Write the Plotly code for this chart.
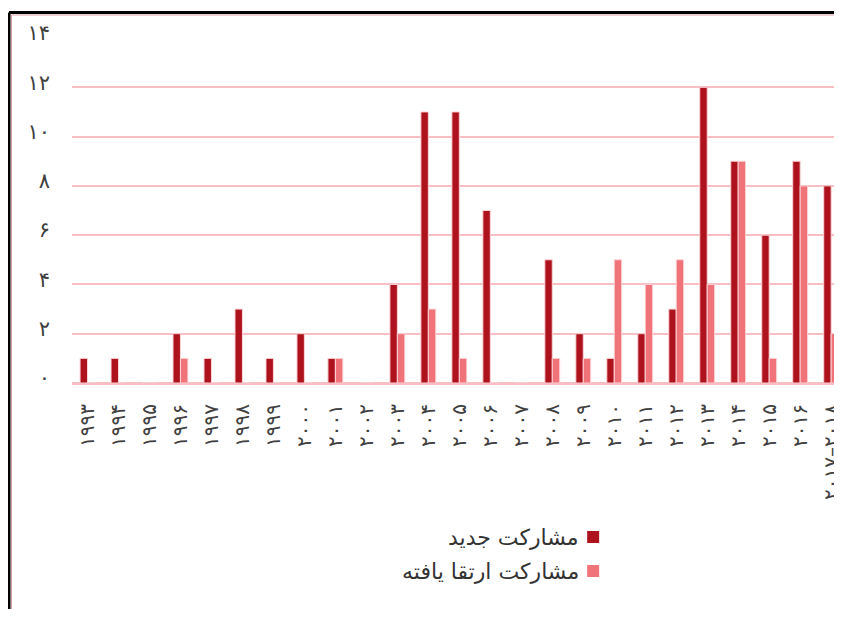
import plotly.graph_objects as go

categories = ["۱۹۹۳", "۱۹۹۴", "۱۹۹۵", "۱۹۹۶", "۱۹۹۷", "۱۹۹۸", "۱۹۹۹", "۲۰۰۰", "۲۰۰۱",
              "۲۰۰۲", "۲۰۰۳", "۲۰۰۴", "۲۰۰۵", "۲۰۰۶", "۲۰۰۷", "۲۰۰۸", "۲۰۰۹", "۲۰۱۰",
              "۲۰۱۱", "۲۰۱۲", "۲۰۱۳", "۲۰۱۴", "۲۰۱۵", "۲۰۱۶", "۲۰۱۷–۲۰۱۸"]
new_participation = [1, 1, 0, 2, 1, 3, 1, 2, 1, 0, 4, 11, 11, 7, 0, 5, 2, 1, 2, 3, 12, 9, 6, 9, 8]
upgraded_participation = [0, 0, 0, 1, 0, 0, 0, 0, 1, 0, 2, 3, 1, 0, 0, 1, 1, 5, 4, 5, 4, 9, 1, 8, 2]
series_names = ["مشارکت جدید", "مشارکت ارتقا یافته"]
y_tick_values = [0, 2, 4, 6, 8, 10, 12, 14]
y_tick_labels = ["۰", "۲", "۴", "۶", "۸", "۱۰", "۱۲", "۱۴"]

DARK = "#AD121D"
LIGHT = "#F0737A"
GRID = "#F8BEC3"
TEXT = "#404040"
FONT = "DejaVu Sans"

fig = go.Figure()
fig.add_trace(go.Bar(x=categories, y=new_participation, name=series_names[0],
                     marker=dict(color=DARK, line=dict(color="#FBD3D6", width=1))))
fig.add_trace(go.Bar(x=categories, y=upgraded_participation, name=series_names[1],
                     marker=dict(color=LIGHT, line=dict(color="#FBD3D6", width=1))))

# the page body has an 8px margin: figure pixel = screen pixel - 8
OFF = 8
W, H = 842 - OFF, 617 - 2 * OFF
ml, mr, mt, mb = 71.5 - OFF, 0, 38 - OFF, H - (383 - OFF)
pw, ph = W - ml - mr, H - mt - mb

def px_x(p):  # screen px -> paper
    return (p - OFF - ml) / pw

def px_y(p):
    return (H - mb - (p - OFF)) / ph

fig.update_layout(
    width=W, height=H,
    margin=dict(l=ml, r=mr, t=mt, b=mb, pad=0),
    paper_bgcolor="white", plot_bgcolor="white",
    barmode="group", bargap=0.52, bargroupgap=0,
    showlegend=False,
    font=dict(family=FONT, color=TEXT),
    xaxis=dict(type="category", range=[-0.5, 24.35], tickangle=-90,
               tickfont=dict(size=20, color=TEXT, family=FONT),
               showgrid=False, showline=True, linecolor=GRID, linewidth=2,
               ticks="", ticklabelstandoff=11),
    yaxis=dict(range=[0, 14], tickvals=y_tick_values, ticktext=y_tick_labels,
               tickfont=dict(size=21, color=TEXT, family=FONT),
               showgrid=True, gridcolor=GRID, gridwidth=2,
               zeroline=True, zerolinecolor=GRID, zerolinewidth=2,
               ticks="", ticklabelstandoff=21, ticklabelshift=-5, showline=False),
)

# frame lines (left and top), pinkish inner edge
for color, off, w in [("black", 0, 3), ("#D9A0A5", 2.5, 1)]:
    fig.add_shape(type="line", xref="paper", yref="paper",
                  x0=px_x(8.5 + off), x1=px_x(8.5 + off), y0=px_y(12.5 + off), y1=px_y(640),
                  line=dict(color=color, width=w))
    fig.add_shape(type="line", xref="paper", yref="paper",
                  x0=px_x(8.5 + off), x1=px_x(860), y0=px_y(12.5 + off), y1=px_y(12.5 + off),
                  line=dict(color=color, width=w))

# legend (right-to-left: swatch on the right of the text)
for i, (name, color) in enumerate(zip(series_names, [DARK, LIGHT])):
    cy = 537 + i * 34
    fig.add_shape(type="rect", xref="paper", yref="paper",
                  x0=px_x(587), x1=px_x(599), y0=px_y(cy + 6), y1=px_y(cy - 6),
                  fillcolor=color, line=dict(width=0))
    fig.add_annotation(xref="paper", yref="paper", x=px_x(581), y=px_y(cy),
                       text=name, showarrow=False, xanchor="right", yanchor="middle",
                       font=dict(size=22, color="#333333", family=FONT))

fig.write_html("out.html")
